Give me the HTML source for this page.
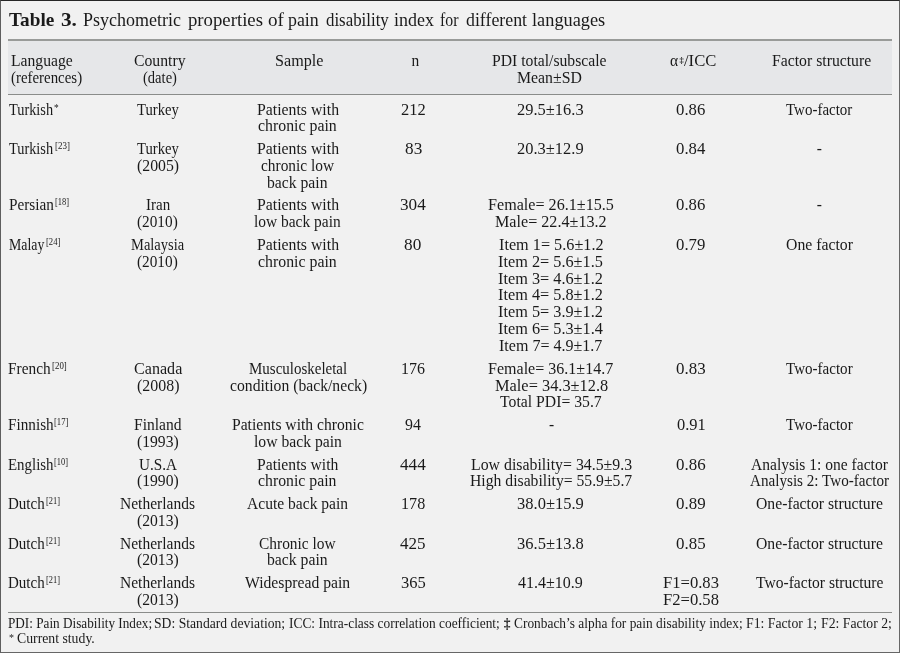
<!DOCTYPE html>
<html><head><meta charset="utf-8">
<style>
html,body{margin:0;padding:0;}
body{width:900px;height:653px;overflow:hidden;position:relative;background:#f1f1f1;font-family:"Liberation Serif",serif;color:#1a1a1a;}
#wrap{position:absolute;left:0;top:0;width:900px;height:653px;will-change:transform;}
#frame{position:absolute;left:0;top:0;width:898px;height:651px;border:1px solid #5a5a5a;border-top-color:#262626;border-left-color:#5e5e5e;border-right-color:#676767;border-bottom-color:#666;}
.t{position:absolute;white-space:nowrap;font-size:15.5px;line-height:17px;transform:scaleY(1.07);transform-origin:0 14.0px;}
.s{position:absolute;white-space:nowrap;font-size:9.4px;line-height:17px;}
.ti{position:absolute;font-size:18.4px;line-height:22px;white-space:nowrap;transform:scaleY(1.05);transform-origin:0 17.2px;}
.tb{font-weight:bold;}
.hl{position:absolute;left:8px;width:884px;height:1px;background:#8a8c8a;}
.hbg{position:absolute;left:8px;width:884px;top:41px;height:53px;background:#e6e7e9;}
sup{font-size:9.4px;line-height:0;vertical-align:5px;}
.f{position:absolute;font-size:13.47px;line-height:16px;white-space:nowrap;transform:scaleY(1.1);transform-origin:0 12.54px;}
</style></head><body>
<div id="wrap">
<div id="frame"></div>
<div class="hbg"></div>
<div class="hl" style="top:39px;height:2px;background:#999b99"></div>
<div class="hl" style="top:94px"></div>
<div class="hl" style="top:612px"></div>
<div class="t" style="left:11.10px;top:51.80px;transform:scale(1.0098,1.07)">Language</div>
<div class="t" style="left:10.70px;top:68.67px;transform:scale(0.9608,1.07)">(references)</div>
<div class="t" style="left:134.40px;top:51.80px;transform:scale(1.0157,1.07)">Country</div>
<div class="t" style="left:143.30px;top:68.67px;transform:scale(0.9389,1.07)">(date)</div>
<div class="t" style="left:275.36px;top:51.80px;transform:scale(1.0422,1.07)">Sample</div>
<div class="t" style="left:411.50px;top:51.80px;transform:scale(1.0000,1.07)">n</div>
<div class="t" style="left:492.40px;top:51.80px;transform:scale(1.0115,1.07)">PDI total/subscale</div>
<div class="t" style="left:516.70px;top:68.67px;transform:scale(1.0206,1.07)">Mean±SD</div>
<div class="t" style="left:670.00px;top:51.80px;transform:scale(1.0000,1.07)">α</div>
<div class="t" style="left:683.90px;top:51.80px;transform:scale(1.0733,1.07)">/ICC</div>
<div class="t" style="left:771.90px;top:51.80px;transform:scale(1.0155,1.07)">Factor structure</div>
<div class="s" style="left:679.40px;top:51.70px;font-size:8.5px;font-weight:bold">‡</div>
<div class="t" style="left:9.00px;top:100.50px;transform:scale(0.9250,1.07)">Turkish</div>
<div class="s" style="left:53.90px;top:99.70px">*</div>
<div class="t" style="left:137.30px;top:100.50px;transform:scale(0.9477,1.07)">Turkey</div>
<div class="t" style="left:256.80px;top:100.50px;transform:scale(1.0188,1.07)">Patients with</div>
<div class="t" style="left:258.30px;top:117.37px;transform:scale(1.0221,1.07)">chronic pain</div>
<div class="t" style="left:400.50px;top:100.50px;transform:scale(1.0652,1.07)">212</div>
<div class="t" style="left:517.40px;top:100.50px;transform:scale(1.0619,1.07)">29.5±16.3</div>
<div class="t" style="left:676.10px;top:100.50px;transform:scale(1.0815,1.07)">0.86</div>
<div class="t" style="left:785.90px;top:100.50px;transform:scale(0.9667,1.07)">Two-factor</div>
<div class="t" style="left:9.00px;top:139.99px;transform:scale(0.9250,1.07)">Turkish</div>
<div class="s" style="left:54.70px;top:137.99px;transform:scaleX(0.9533);transform-origin:0 0">[23]</div>
<div class="t" style="left:137.30px;top:139.99px;transform:scale(0.9477,1.07)">Turkey</div>
<div class="t" style="left:136.80px;top:156.86px;transform:scale(1.0171,1.07)">(2005)</div>
<div class="t" style="left:256.80px;top:139.99px;transform:scale(1.0188,1.07)">Patients with</div>
<div class="t" style="left:260.90px;top:156.86px;transform:scale(0.9932,1.07)">chronic low</div>
<div class="t" style="left:267.20px;top:173.73px;transform:scale(1.0117,1.07)">back pain</div>
<div class="t" style="left:404.60px;top:139.99px;transform:scale(1.1133,1.07)">83</div>
<div class="t" style="left:517.40px;top:139.99px;transform:scale(1.0619,1.07)">20.3±12.9</div>
<div class="t" style="left:676.10px;top:139.99px;transform:scale(1.0815,1.07)">0.84</div>
<div class="t" style="left:816.80px;top:139.99px;transform:scale(1.0000,1.07)">-</div>
<div class="t" style="left:8.60px;top:196.35px;transform:scale(0.9848,1.07)">Persian</div>
<div class="s" style="left:54.70px;top:194.35px;transform:scaleX(0.9000);transform-origin:0 0">[18]</div>
<div class="t" style="left:145.70px;top:196.35px;transform:scale(0.9680,1.07)">Iran</div>
<div class="t" style="left:137.30px;top:213.22px;transform:scale(0.9854,1.07)">(2010)</div>
<div class="t" style="left:256.80px;top:196.35px;transform:scale(1.0188,1.07)">Patients with</div>
<div class="t" style="left:254.20px;top:213.22px;transform:scale(0.9966,1.07)">low back pain</div>
<div class="t" style="left:400.00px;top:196.35px;transform:scale(1.1087,1.07)">304</div>
<div class="t" style="left:487.90px;top:196.35px;transform:scale(1.0405,1.07)">Female= 26.1±15.5</div>
<div class="t" style="left:495.40px;top:213.22px;transform:scale(1.0411,1.07)">Male= 22.4±13.2</div>
<div class="t" style="left:676.10px;top:196.35px;transform:scale(1.0815,1.07)">0.86</div>
<div class="t" style="left:816.80px;top:196.35px;transform:scale(1.0000,1.07)">-</div>
<div class="t" style="left:9.10px;top:235.84px;transform:scale(0.8925,1.07)">Malay</div>
<div class="s" style="left:46.10px;top:233.84px;transform:scaleX(0.9200);transform-origin:0 0">[24]</div>
<div class="t" style="left:131.40px;top:235.84px;transform:scale(0.9351,1.07)">Malaysia</div>
<div class="t" style="left:137.30px;top:252.71px;transform:scale(0.9854,1.07)">(2010)</div>
<div class="t" style="left:256.80px;top:235.84px;transform:scale(1.0188,1.07)">Patients with</div>
<div class="t" style="left:258.30px;top:252.71px;transform:scale(1.0221,1.07)">chronic pain</div>
<div class="t" style="left:404.40px;top:235.84px;transform:scale(1.1133,1.07)">80</div>
<div class="t" style="left:498.50px;top:235.84px;transform:scale(1.0470,1.07)">Item 1= 5.6±1.2</div>
<div class="t" style="left:498.20px;top:252.71px;transform:scale(1.0500,1.07)">Item 2= 5.6±1.5</div>
<div class="t" style="left:498.20px;top:269.58px;transform:scale(1.0500,1.07)">Item 3= 4.6±1.2</div>
<div class="t" style="left:498.20px;top:286.45px;transform:scale(1.0500,1.07)">Item 4= 5.8±1.2</div>
<div class="t" style="left:498.20px;top:303.32px;transform:scale(1.0500,1.07)">Item 5= 3.9±1.2</div>
<div class="t" style="left:498.20px;top:320.19px;transform:scale(1.0500,1.07)">Item 6= 5.3±1.4</div>
<div class="t" style="left:499.00px;top:337.06px;transform:scale(1.0340,1.07)">Item 7= 4.9±1.7</div>
<div class="t" style="left:676.10px;top:235.84px;transform:scale(1.0815,1.07)">0.79</div>
<div class="t" style="left:785.90px;top:235.84px;transform:scale(1.0167,1.07)">One factor</div>
<div class="t" style="left:8.40px;top:359.68px;transform:scale(0.9907,1.07)">French</div>
<div class="s" style="left:51.70px;top:357.68px;transform:scaleX(0.9467);transform-origin:0 0">[20]</div>
<div class="t" style="left:133.80px;top:359.68px;transform:scale(1.0391,1.07)">Canada</div>
<div class="t" style="left:136.50px;top:376.55px;transform:scale(1.0268,1.07)">(2008)</div>
<div class="t" style="left:248.70px;top:359.68px;transform:scale(0.9663,1.07)">Musculoskeletal</div>
<div class="t" style="left:229.60px;top:376.55px;transform:scale(1.0119,1.07)">condition (back/neck)</div>
<div class="t" style="left:400.97px;top:359.68px;transform:scale(1.0318,1.07)">176</div>
<div class="t" style="left:488.00px;top:359.68px;transform:scale(1.0347,1.07)">Female= 36.1±14.7</div>
<div class="t" style="left:494.50px;top:376.55px;transform:scale(1.0561,1.07)">Male= 34.3±12.8</div>
<div class="t" style="left:500.20px;top:393.42px;transform:scale(1.0150,1.07)">Total PDI= 35.7</div>
<div class="t" style="left:676.00px;top:359.68px;transform:scale(1.0926,1.07)">0.83</div>
<div class="t" style="left:785.90px;top:359.68px;transform:scale(0.9710,1.07)">Two-factor</div>
<div class="t" style="left:8.40px;top:416.04px;transform:scale(0.9826,1.07)">Finnish</div>
<div class="s" style="left:54.40px;top:414.04px;transform:scaleX(0.9200);transform-origin:0 0">[17]</div>
<div class="t" style="left:134.10px;top:416.04px;transform:scale(1.0043,1.07)">Finland</div>
<div class="t" style="left:136.80px;top:432.91px;transform:scale(1.0098,1.07)">(1993)</div>
<div class="t" style="left:231.50px;top:416.04px;transform:scale(1.0076,1.07)">Patients with chronic</div>
<div class="t" style="left:253.70px;top:432.91px;transform:scale(1.0115,1.07)">low back pain</div>
<div class="t" style="left:404.70px;top:416.04px;transform:scale(1.0250,1.07)">94</div>
<div class="t" style="left:548.90px;top:416.04px;transform:scale(1.0000,1.07)">-</div>
<div class="t" style="left:676.80px;top:416.04px;transform:scale(1.0615,1.07)">0.91</div>
<div class="t" style="left:785.90px;top:416.04px;transform:scale(0.9710,1.07)">Two-factor</div>
<div class="t" style="left:8.40px;top:455.53px;transform:scale(0.9617,1.07)">English</div>
<div class="s" style="left:54.40px;top:453.53px;transform:scaleX(0.8933);transform-origin:0 0">[10]</div>
<div class="t" style="left:138.70px;top:455.53px;transform:scale(0.9821,1.07)">U.S.A</div>
<div class="t" style="left:136.80px;top:472.40px;transform:scale(1.0098,1.07)">(1990)</div>
<div class="t" style="left:257.10px;top:455.53px;transform:scale(1.0100,1.07)">Patients with</div>
<div class="t" style="left:258.30px;top:472.40px;transform:scale(1.0182,1.07)">chronic pain</div>
<div class="t" style="left:400.00px;top:455.53px;transform:scale(1.1087,1.07)">444</div>
<div class="t" style="left:470.70px;top:455.53px;transform:scale(1.0223,1.07)">Low disability= 34.5±9.3</div>
<div class="t" style="left:469.60px;top:472.40px;transform:scale(1.0125,1.07)">High disability= 55.9±5.7</div>
<div class="t" style="left:676.00px;top:455.53px;transform:scale(1.0926,1.07)">0.86</div>
<div class="t" style="left:750.70px;top:455.53px;transform:scale(1.0029,1.07)">Analysis 1: one factor</div>
<div class="t" style="left:749.60px;top:472.40px;transform:scale(0.9769,1.07)">Analysis 2: Two-factor</div>
<div class="t" style="left:8.40px;top:495.02px;transform:scale(0.9684,1.07)">Dutch</div>
<div class="s" style="left:46.00px;top:493.02px;transform:scaleX(0.8933);transform-origin:0 0">[21]</div>
<div class="t" style="left:120.30px;top:495.02px;transform:scale(1.0013,1.07)">Netherlands</div>
<div class="t" style="left:136.80px;top:511.89px;transform:scale(1.0098,1.07)">(2013)</div>
<div class="t" style="left:246.80px;top:495.02px;transform:scale(1.0040,1.07)">Acute back pain</div>
<div class="t" style="left:400.66px;top:495.02px;transform:scale(1.0409,1.07)">178</div>
<div class="t" style="left:517.40px;top:495.02px;transform:scale(1.0651,1.07)">38.0±15.9</div>
<div class="t" style="left:676.00px;top:495.02px;transform:scale(1.0926,1.07)">0.89</div>
<div class="t" style="left:756.10px;top:495.02px;transform:scale(1.0136,1.07)">One-factor structure</div>
<div class="t" style="left:8.40px;top:534.51px;transform:scale(0.9684,1.07)">Dutch</div>
<div class="s" style="left:46.00px;top:532.51px;transform:scaleX(0.8933);transform-origin:0 0">[21]</div>
<div class="t" style="left:120.30px;top:534.51px;transform:scale(1.0013,1.07)">Netherlands</div>
<div class="t" style="left:136.80px;top:551.38px;transform:scale(1.0098,1.07)">(2013)</div>
<div class="t" style="left:259.40px;top:534.51px;transform:scale(0.9948,1.07)">Chronic low</div>
<div class="t" style="left:267.10px;top:551.38px;transform:scale(1.0133,1.07)">back pain</div>
<div class="t" style="left:400.00px;top:534.51px;transform:scale(1.1000,1.07)">425</div>
<div class="t" style="left:517.40px;top:534.51px;transform:scale(1.0651,1.07)">36.5±13.8</div>
<div class="t" style="left:676.00px;top:534.51px;transform:scale(1.0926,1.07)">0.85</div>
<div class="t" style="left:756.10px;top:534.51px;transform:scale(1.0136,1.07)">One-factor structure</div>
<div class="t" style="left:8.40px;top:574.00px;transform:scale(0.9684,1.07)">Dutch</div>
<div class="s" style="left:46.00px;top:572.00px;transform:scaleX(0.8933);transform-origin:0 0">[21]</div>
<div class="t" style="left:120.30px;top:574.00px;transform:scale(1.0013,1.07)">Netherlands</div>
<div class="t" style="left:136.80px;top:590.87px;transform:scale(1.0098,1.07)">(2013)</div>
<div class="t" style="left:244.90px;top:574.00px;transform:scale(1.0115,1.07)">Widespread pain</div>
<div class="t" style="left:400.50px;top:574.00px;transform:scale(1.0652,1.07)">365</div>
<div class="t" style="left:518.20px;top:574.00px;transform:scale(1.0333,1.07)">41.4±10.9</div>
<div class="t" style="left:662.60px;top:574.00px;transform:scale(1.0712,1.07)">F1=0.83</div>
<div class="t" style="left:662.60px;top:590.87px;transform:scale(1.0712,1.07)">F2=0.58</div>
<div class="t" style="left:756.10px;top:574.00px;transform:scale(1.0056,1.07)">Two-factor structure</div>
<div class="ti tb" style="left:9.00px;top:8.80px;transform:scale(1.0465,1.05)">Table</div>
<div class="ti tb" style="left:60.50px;top:8.80px;transform:scale(1.1538,1.05)">3.</div>
<div class="ti" style="left:83.30px;top:8.80px;transform:scale(0.9780,1.05)">Psychometric</div>
<div class="ti" style="left:187.80px;top:8.80px;transform:scale(1.0192,1.05)">properties</div>
<div class="ti" style="left:267.80px;top:8.80px;transform:scale(1.0375,1.05)">of</div>
<div class="ti" style="left:287.80px;top:8.80px;transform:scale(0.9719,1.05)">pain</div>
<div class="ti" style="left:325.60px;top:8.80px;transform:scale(0.9174,1.05)">disability</div>
<div class="ti" style="left:394.40px;top:8.80px;transform:scale(0.9756,1.05)">index</div>
<div class="ti" style="left:440.00px;top:8.80px;transform:scale(0.8591,1.05)">for</div>
<div class="ti" style="left:465.60px;top:8.80px;transform:scale(0.9698,1.05)">different</div>
<div class="ti" style="left:532.20px;top:8.80px;transform:scale(0.9959,1.05)">languages</div>
<div class="f" style="left:7.72px;top:615.66px;transform:scale(0.9800,1.1)">PDI: Pain Disability Index;</div>
<div class="f" style="left:154.49px;top:615.66px;transform:scale(1.0133,1.1)">SD: Standard deviation;</div>
<div class="f" style="left:289.00px;top:615.66px;transform:scale(0.9952,1.1)">ICC: Intra-class correlation coefficient;</div>
<div class="f" style="left:503.80px;top:615.66px;transform:scale(1.0000,1.1)"><b>‡</b></div>
<div class="f" style="left:514.00px;top:615.66px;transform:scale(0.9943,1.1)">Cronbach’s alpha for pain disability index;</div>
<div class="f" style="left:746.28px;top:615.66px;transform:scale(1.0206,1.1)">F1: Factor 1;</div>
<div class="f" style="left:820.68px;top:615.66px;transform:scale(1.0191,1.1)">F2: Factor 2;</div>
<div class="s" style="left:9.00px;top:629.30px;font-size:10px">*</div>
<div class="f" style="left:16.70px;top:630.96px;transform:scale(1.0211,1.1)">Current study.</div>
</div>
</body></html>
